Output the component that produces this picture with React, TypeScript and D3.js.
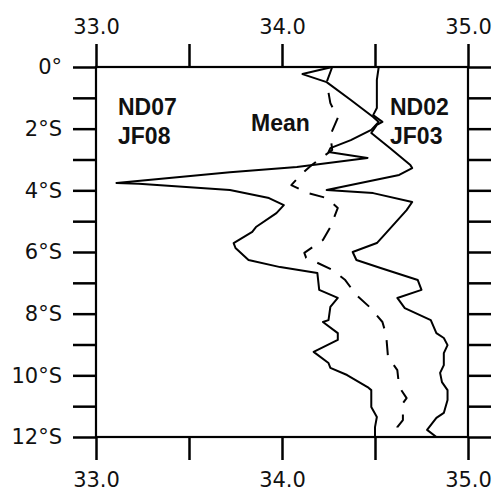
import React, { useEffect, useRef } from "react";
import * as d3 from "d3";

// ND07 / JF08 (left, fresher profile)
const nd07Lat = [0, 0.23, 0.49, 1.07, 1.62, 1.78, 2.04, 2.37, 2.63, 2.76, 2.95, 3.24, 3.41, 3.76, 3.79, 3.99, 4.25, 4.48, 4.74, 5.19, 5.35, 5.71, 5.87, 6.26, 6.49, 6.68, 7.23, 7.49, 7.78, 8.21, 8.27, 8.63, 8.85, 9.24, 9.6, 9.76, 9.99, 10.38, 10.48, 11.03, 11.35, 11.68, 12];
const nd07Sal = [34.27, 34.11, 34.24, 34.37, 34.49, 34.52, 34.48, 34.37, 34.26, 34.25, 34.46, 34.08, 33.72, 33.11, 33.23, 33.72, 33.93, 34.01, 33.97, 33.86, 33.84, 33.74, 33.75, 33.82, 33.99, 34.19, 34.2, 34.3, 34.26, 34.25, 34.22, 34.3, 34.3, 34.17, 34.25, 34.26, 34.35, 34.46, 34.48, 34.48, 34.51, 34.5, 34.5];

// ND02 / JF03 (right, saltier profile)
const nd02Lat = [0, 0.42, 0.91, 1.33, 1.56, 1.65, 1.78, 1.88, 2.14, 2.63, 3.18, 3.28, 3.5, 3.99, 4.09, 4.38, 4.64, 5.38, 5.71, 6.0, 6.26, 6.52, 6.91, 7.23, 7.49, 7.82, 8.21, 8.63, 8.79, 9.02, 9.28, 9.67, 9.92, 10.22, 10.48, 10.8, 11.22, 11.38, 11.77, 12];
const nd02Sal = [34.52, 34.51, 34.51, 34.51, 34.49, 34.51, 34.54, 34.51, 34.48, 34.58, 34.69, 34.7, 34.63, 34.24, 34.49, 34.7, 34.67, 34.56, 34.51, 34.38, 34.4, 34.53, 34.73, 34.75, 34.62, 34.66, 34.8, 34.83, 34.87, 34.89, 34.87, 34.87, 34.85, 34.86, 34.89, 34.89, 34.87, 34.83, 34.78, 34.83];

// Mean profile (dashed)
const meanLat = [0, 0.49, 1.17, 1.65, 2.21, 2.69, 3.18, 3.5, 3.83, 4.09, 4.25, 4.57, 5.19, 5.61, 6.03, 6.19, 6.32, 6.58, 6.91, 7.4, 7.78, 8.27, 8.69, 9.41, 9.83, 10.38, 10.74, 10.9, 11.45, 11.68, 12];
const meanSal = [34.27, 34.24, 34.26, 34.3, 34.26, 34.27, 34.16, 34.1, 34.05, 34.14, 34.24, 34.3, 34.26, 34.22, 34.12, 34.13, 34.18, 34.27, 34.34, 34.4, 34.47, 34.54, 34.56, 34.57, 34.62, 34.63, 34.67, 34.65, 34.65, 34.62, 34.62];

const xTicks = [33, 33.5, 34, 34.5, 35];
const xLabelTicks = [33, 34, 35];
const yTicks = [0, 1, 2, 3, 4, 5, 6, 7, 8, 9, 10, 11, 12];
const yLabelTicks = [0, 2, 4, 6, 8, 10, 12];

const W = 494;
const H = 491;
const M = { left: 96, right: 26, top: 67, bottom: 54 };

export default function App() {
  const ref = useRef<SVGSVGElement | null>(null);

  useEffect(() => {
    const svg = d3.select(ref.current);
    svg.selectAll("*").remove();

    const x = d3.scaleLinear().domain([33, 35]).range([M.left, W - M.right]);
    const y = d3.scaleLinear().domain([0, 12]).range([M.top, H - M.bottom]);

    const font = "'DejaVu Sans', sans-serif";
    const tickLen = 23;

    const styleAxis = (g: any) => {
      g.select(".domain").remove();
      g.selectAll(".tick line").attr("stroke", "#000").attr("stroke-width", 2.5);
      g.selectAll(".tick text")
        .attr("font-family", font)
        .attr("font-size", 21)
        .attr("fill", "#111");
    };

    const fmtX = (d: any) => (xLabelTicks.includes(d) ? d3.format(".1f")(d) : "");
    const fmtY = (d: any) =>
      yLabelTicks.includes(d) ? (d === 0 ? "0°" : `${d}°S`) : "";

    // top axis
    svg.append("g")
      .attr("transform", `translate(0,${y(0)})`)
      .call(d3.axisTop(x).tickValues(xTicks).tickSize(tickLen).tickPadding(10).tickFormat(fmtX as any))
      .call(styleAxis);
    // bottom axis
    svg.append("g")
      .attr("transform", `translate(0,${y(12)})`)
      .call(d3.axisBottom(x).tickValues(xTicks).tickSize(tickLen).tickPadding(12).tickFormat(fmtX as any))
      .call(styleAxis);
    // left axis
    svg.append("g")
      .attr("transform", `translate(${x(33)},0)`)
      .call(d3.axisLeft(y).tickValues(yTicks).tickSize(tickLen).tickPadding(11).tickFormat(fmtY as any))
      .call(styleAxis);
    // right axis
    svg.append("g")
      .attr("transform", `translate(${x(35)},0)`)
      .call(d3.axisRight(y).tickValues(yTicks).tickSize(tickLen).tickFormat(() => ""))
      .call(styleAxis);

    // frame
    svg.append("rect")
      .attr("x", x(33))
      .attr("y", y(0))
      .attr("width", x(35) - x(33))
      .attr("height", y(12) - y(0))
      .attr("fill", "none")
      .attr("stroke", "#000")
      .attr("stroke-width", 2.2);

    const line = d3.line<[number, number]>()
      .x((d) => x(d[1]))
      .y((d) => y(d[0]));

    const series = [
      { lat: nd07Lat, sal: nd07Sal, dash: null },
      { lat: nd02Lat, sal: nd02Sal, dash: null },
      { lat: meanLat, sal: meanSal, dash: "15,12" },
    ];
    series.forEach((s) => {
      const pts = s.lat.map((l, i) => [l, s.sal[i]] as [number, number]);
      const p = svg.append("path")
        .attr("d", line(pts))
        .attr("fill", "none")
        .attr("stroke", "#000")
        .attr("stroke-width", 2)
        .attr("stroke-linejoin", "round");
      if (s.dash) p.attr("stroke-dasharray", s.dash);
    });

    // labels
    const labels = [
      { t: "ND07", x: 118, y: 115 },
      { t: "JF08", x: 118, y: 144 },
      { t: "Mean", x: 251, y: 131 },
      { t: "ND02", x: 390, y: 115 },
      { t: "JF03", x: 390, y: 144 },
    ];
    svg.selectAll("text.lbl")
      .data(labels)
      .enter()
      .append("text")
      .attr("class", "lbl")
      .attr("x", (d) => d.x)
      .attr("y", (d) => d.y)
      .attr("font-family", "'Liberation Sans', Arial, sans-serif")
      .attr("font-weight", "bold")
      .attr("font-size", 23)
      .attr("fill", "#111")
      .text((d) => d.t);
  }, []);

  return (
    <svg
      ref={ref}
      width={W}
      height={H}
      style={{ position: "absolute", left: 0, top: 0, background: "#fff" }}
    />
  );
}
